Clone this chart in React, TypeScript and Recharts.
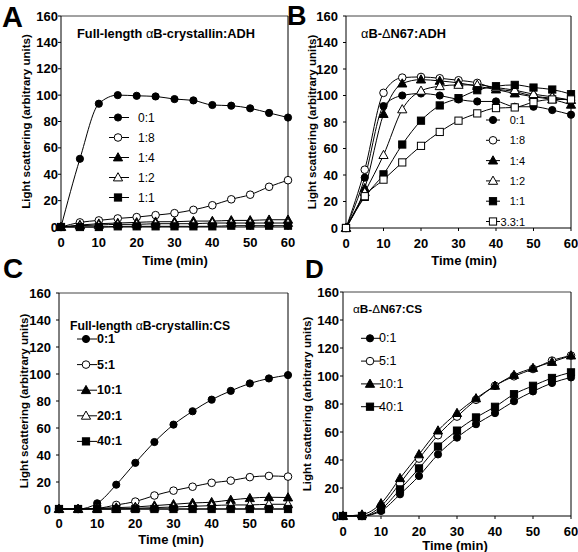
import React from "react";
import { LineChart, Line, XAxis, YAxis, ReferenceLine } from "recharts";

const FONT = '"Liberation Sans", Arial, Helvetica, sans-serif';

// shared axes
const time = [0, 5, 10, 15, 20, 25, 30, 35, 40, 45, 50, 55, 60];
const xTicks = [0, 10, 20, 30, 40, 50, 60];
const yTicks = [0, 20, 40, 60, 80, 100, 120, 140, 160];

// A: full-length αB-crystallin : ADH
const adhFull01 = [0, 51.7, 93.5, 100, 99.5, 99, 97, 96, 92.5, 92, 90, 86.5, 83];
const adhFull18 = [0, 3.5, 5, 6.5, 7.5, 9, 10.5, 13, 16.5, 21, 24.5, 30.5, 35.5];
const adhFull14 = [0, 1.5, 2.5, 3, 3.5, 4, 4, 4.5, 4.5, 5, 5, 5.5, 5.5];
const adhFull12 = [0, 1, 1.5, 2, 2, 2.5, 2.5, 2.5, 3, 3, 3, 3, 3];
const adhFull11 = [0, 0, 0, 0.5, 0.5, 0.5, 0.5, 0.5, 0.5, 1, 1, 1, 1];

// B: αB-ΔN67 : ADH
const adhDel01 = [0, 38, 92, 100, 101.5, 100, 97, 95.5, 95.5, 91.5, 91.5, 89, 85.5];
const adhDel18 = [0, 44, 102, 113.5, 114, 113, 111.5, 109.5, 105, 103, 99.5, 98, 96.5];
const adhDel14 = [0, 30, 86, 109, 112, 111, 109.5, 107, 104.5, 101.5, 99, 97, 93];
const adhDel12 = [0, 27, 55, 89.5, 103.5, 107, 108, 108, 106, 104, 101, 99, 96.5];
const adhDel11 = [0, 23.5, 40.5, 63, 81, 92.5, 98, 104, 107, 108, 106, 104.5, 101];
const adhDel331 = [0, 24, 36.5, 49.5, 62, 72.5, 81, 86.5, 90.5, 91, 95, 97, 97];

// C: full-length αB-crystallin : CS
const csFull01 = [0, 0, 4.2, 18, 34.2, 49.6, 62.5, 72.4, 81, 87.5, 93, 96.7, 99.2];
const csFull51 = [0, 0, 0.5, 3, 5.5, 10, 13.6, 16.5, 19.4, 21, 23.6, 24.5, 24];
const csFull101 = [0, 0, 0.5, 1, 1.5, 2.5, 3.5, 4.5, 5, 6.7, 8, 8.7, 8.5];
const csFull201 = [0, 0, 0, 0, 0.5, 1, 1.5, 2, 2.5, 3, 3, 3.5, 3.5];
const csFull401 = [0, 0, 0, 0, 0, 0, 0, 0, 0, 0, 0, 0, 0];

// D: αB-ΔN67 : CS
const csDel01 = [0, 0, 3.6, 15.5, 28.6, 44, 56, 65.6, 73.5, 82, 89, 95, 99];
const csDel51 = [0, 0, 7, 23.4, 41, 57.7, 71, 83, 93, 99.8, 105, 111, 114.6];
const csDel101 = [0, 1, 9, 27, 44, 61, 73.5, 84, 93, 100.7, 105.7, 110, 114.6];
const csDel401 = [0, 0, 4.8, 19, 34, 49.6, 61, 70.4, 78, 87, 93, 98.6, 102.6];

type MarkerKind = "dot" | "ring" | "tri" | "openTri" | "sq" | "openSq";

function Marker({ kind, cx, cy }: { kind: MarkerKind; cx: number; cy: number }) {
  const open = kind === "ring" || kind === "openTri" || kind === "openSq";
  const fill = open ? "#fff" : "#000";
  if (kind === "dot" || kind === "ring") {
    return <circle cx={cx} cy={cy} r={open ? 3.8 : 3.6} fill={fill} stroke="#000" strokeWidth={1} />;
  }
  if (kind === "tri" || kind === "openTri") {
    return (
      <polygon
        points={`${cx},${cy - 4.8} ${cx - 4.6},${cy + 3.4} ${cx + 4.6},${cy + 3.4}`}
        fill={fill}
        stroke="#000"
        strokeWidth={1}
      />
    );
  }
  return <rect x={cx - 3.6} y={cy - 3.6} width={7.2} height={7.2} fill={fill} stroke="#000" strokeWidth={1} />;
}

interface Series {
  key: string;
  label: string;
  values: number[];
  marker: MarkerKind;
}

interface PanelSpec {
  plot: { x0: number; x1: number; y0: number; y1: number };
  xTickGap: number;
  yTickGap: number;
  series: Series[];
}

const YW = 40;
const XH = 34;
const MT = 6;
const MR = 10;

const tickStyle = { fontSize: 13, fontWeight: 700, fill: "#000", fontFamily: FONT };

function Panel({ spec }: { spec: PanelSpec }) {
  const { plot } = spec;
  const data = time.map((t, i) => {
    const row: Record<string, number> = { t };
    spec.series.forEach((s) => (row[s.key] = s.values[i]));
    return row;
  });
  const width = plot.x1 - plot.x0 + YW + MR;
  const height = plot.y1 - plot.y0 + MT + XH;

  return (
    <div style={{ position: "absolute", left: plot.x0 - YW, top: plot.y0 - MT }}>
      <LineChart width={width} height={height} data={data} margin={{ top: MT, right: MR, bottom: 0, left: 0 }}>
        <XAxis
          dataKey="t"
          type="number"
          domain={[0, 60]}
          ticks={xTicks}
          interval={0}
          height={XH}
          tickSize={3}
          tickMargin={spec.xTickGap}
          axisLine={{ stroke: "#000" }}
          tickLine={{ stroke: "#000" }}
          tick={tickStyle}
        />
        <YAxis
          type="number"
          domain={[0, 160]}
          ticks={yTicks}
          interval={0}
          width={YW}
          tickSize={3}
          tickMargin={spec.yTickGap}
          axisLine={{ stroke: "#000" }}
          tickLine={{ stroke: "#000" }}
          tick={tickStyle}
        />
        <ReferenceLine y={160} stroke="#444" />
        <ReferenceLine x={60} stroke="#000" />
        {spec.series.map((s) => (
          <Line
            key={s.key}
            dataKey={s.key}
            type="monotone"
            stroke="#000"
            strokeWidth={1}
            activeDot={false}
            isAnimationActive={false}
            dot={(p: any) =>
              p.cx == null || p.cy == null ? (
                <g key={`${s.key}-${p.index}`} />
              ) : (
                <Marker key={`${s.key}-${p.index}`} kind={s.marker} cx={p.cx} cy={p.cy} />
              )
            }
          />
        ))}
      </LineChart>
    </div>
  );
}

const panelA: PanelSpec = {
  plot: { x0: 61, x1: 288, y0: 16, y1: 227 },
  xTickGap: 8,
  yTickGap: 0,
  series: [
    { key: "r01", label: "0:1", values: adhFull01, marker: "dot" },
    { key: "r18", label: "1:8", values: adhFull18, marker: "ring" },
    { key: "r14", label: "1:4", values: adhFull14, marker: "tri" },
    { key: "r12", label: "1:2", values: adhFull12, marker: "openTri" },
    { key: "r11", label: "1:1", values: adhFull11, marker: "sq" },
  ],
};

const panelB: PanelSpec = {
  plot: { x0: 346, x1: 571, y0: 16, y1: 228 },
  xTickGap: 8,
  yTickGap: 5,
  series: [
    { key: "r01", label: "0:1", values: adhDel01, marker: "dot" },
    { key: "r18", label: "1:8", values: adhDel18, marker: "ring" },
    { key: "r14", label: "1:4", values: adhDel14, marker: "tri" },
    { key: "r12", label: "1:2", values: adhDel12, marker: "openTri" },
    { key: "r11", label: "1:1", values: adhDel11, marker: "sq" },
    { key: "r331", label: "3.3:1", values: adhDel331, marker: "openSq" },
  ],
};

const panelC: PanelSpec = {
  plot: { x0: 59, x1: 288, y0: 293, y1: 509 },
  xTickGap: 7,
  yTickGap: 5,
  series: [
    { key: "r01", label: "0:1", values: csFull01, marker: "dot" },
    { key: "r51", label: "5:1", values: csFull51, marker: "ring" },
    { key: "r101", label: "10:1", values: csFull101, marker: "tri" },
    { key: "r201", label: "20:1", values: csFull201, marker: "openTri" },
    { key: "r401", label: "40:1", values: csFull401, marker: "sq" },
  ],
};

const panelD: PanelSpec = {
  plot: { x0: 343, x1: 571, y0: 292, y1: 516 },
  xTickGap: 8,
  yTickGap: 1,
  series: [
    { key: "r01", label: "0:1", values: csDel01, marker: "dot" },
    { key: "r51", label: "5:1", values: csDel51, marker: "ring" },
    { key: "r101", label: "10:1", values: csDel101, marker: "tri" },
    { key: "r401", label: "40:1", values: csDel401, marker: "sq" },
  ],
};

function LegendBlock({
  series,
  mx,
  tx,
  y0,
  step,
  anchor = "start",
  bold = false,
  size = 12,
  lineL = 9,
  lineR = 11,
}: {
  series: Series[];
  mx: number;
  tx: number;
  y0: number;
  step: number;
  anchor?: "start" | "end";
  bold?: boolean;
  size?: number;
  lineL?: number;
  lineR?: number;
}) {
  return (
    <g>
      {series.map((s, i) => {
        const y = y0 + i * step;
        return (
          <g key={s.key}>
            <line x1={mx - lineL} x2={mx + lineR} y1={y} y2={y} stroke="#000" strokeWidth={1} />
            <Marker kind={s.marker} cx={mx} cy={y} />
            <text
              x={tx}
              y={y}
              dominantBaseline="central"
              textAnchor={anchor}
              fontSize={size}
              fontWeight={bold ? 700 : 400}
            >
              {s.label}
            </text>
          </g>
        );
      })}
    </g>
  );
}

const yTitle = "Light scattering (arbitrary units)";

function YTitle({ x, y }: { x: number; y: number }) {
  return (
    <text
      transform={`translate(${x},${y}) rotate(-90)`}
      textAnchor="middle"
      dominantBaseline="central"
      fontSize={11.5}
      fontWeight={700}
    >
      {yTitle}
    </text>
  );
}

function XTitle({ x, y }: { x: number; y: number }) {
  return (
    <text x={x} y={y} textAnchor="middle" dominantBaseline="central" fontSize={13} fontWeight={700}>
      Time (min)
    </text>
  );
}

export default function App() {
  return (
    <div
      style={{
        position: "absolute",
        left: 0,
        top: 0,
        width: 578,
        height: 552,
        background: "#fff",
        fontFamily: FONT,
        overflow: "hidden",
      }}
    >
      <Panel spec={panelA} />
      <Panel spec={panelB} />
      <Panel spec={panelC} />
      <Panel spec={panelD} />
      <svg
        width={578}
        height={552}
        style={{ position: "absolute", left: 0, top: 0, pointerEvents: "none" }}
        fontFamily={FONT}
        fill="#000"
      >
        {/* panel letters */}
        <text x={2} y={26.5} fontSize={29} fontWeight={700}>A</text>
        <text x={287} y={25} fontSize={27} fontWeight={700}>B</text>
        <text x={3} y={278} fontSize={28} fontWeight={700}>C</text>
        <text x={305} y={278} fontSize={26} fontWeight={700}>D</text>

        {/* panel titles */}
        <text x={77} y={33} dominantBaseline="central" fontSize={12.8} fontWeight={700}>
          Full-length <tspan fontWeight={400}>α</tspan>B-crystallin:ADH
        </text>
        <text x={361} y={33} dominantBaseline="central" fontSize={12.8} fontWeight={700}>
          <tspan fontWeight={400}>α</tspan>B-<tspan fontWeight={400}>Δ</tspan>N67:ADH
        </text>
        <text x={70} y={325.5} dominantBaseline="central" fontSize={12.2} fontWeight={700}>
          Full-length <tspan fontWeight={400}>α</tspan>B-crystallin:CS
        </text>
        <text x={353} y={309} dominantBaseline="central" fontSize={11.8} fontWeight={700}>
          <tspan fontWeight={400}>α</tspan>B-<tspan fontWeight={400}>Δ</tspan>N67:CS
        </text>

        {/* axis titles */}
        <YTitle x={26} y={121.5} />
        <YTitle x={312} y={122} />
        <YTitle x={24} y={401} />
        <YTitle x={307} y={404} />
        <XTitle x={175} y={260} />
        <XTitle x={464} y={260} />
        <XTitle x={171} y={539} />
        <XTitle x={455} y={545.5} />

        {/* legends */}
        <LegendBlock series={panelA.series} mx={118} tx={138} y0={117.5} step={20} />
        <LegendBlock
          series={panelB.series}
          mx={493}
          tx={525}
          y0={120}
          step={20.3}
          anchor="end"
          size={11}
          lineL={7}
          lineR={7}
        />
        <LegendBlock series={panelC.series} mx={86} tx={97} y0={339} step={25.6} bold size={12.5} />
        <LegendBlock series={panelD.series} mx={370} tx={379} y0={338.3} step={22.8} size={12.5} />
      </svg>
    </div>
  );
}
